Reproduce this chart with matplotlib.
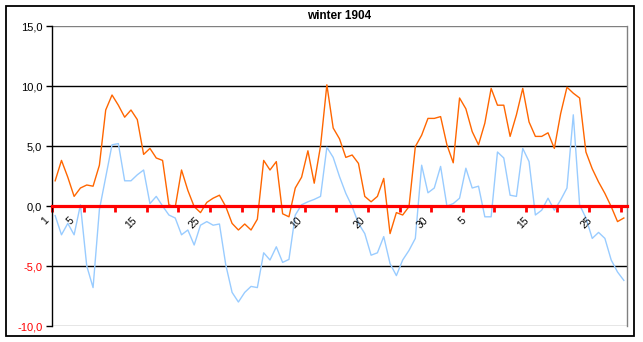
import matplotlib
matplotlib.use("Agg")
import matplotlib.pyplot as plt
import matplotlib.transforms as mtransforms
from matplotlib.patches import Rectangle
import numpy as np

plt.rcParams["font.family"] = ["Liberation Sans", "DejaVu Sans"]

title = "winter 1904"

# Daily values, 1 Dec 1903 .. 29 Feb 1904
orange_series = [
    2.1, 3.8, 2.4, 0.8, 1.5, 1.75, 1.65, 3.4, 8.0, 9.25,
    8.4, 7.4, 8.0, 7.2, 4.3, 4.8, 4.0, 3.8, 0.1, -0.1,
    3.0, 1.3, -0.05, -0.55, 0.3, 0.65, 0.9, -0.05, -1.45, -2.0,
    -1.5, -2.0, -1.1, 3.8, 3.0, 3.7, -0.65, -0.9, 1.5, 2.4,
    4.6, 1.9, 5.0, 10.1, 6.5, 5.6, 4.05, 4.25, 3.55, 0.8,
    0.35, 0.8, 2.3, -2.3, -0.55, -0.75, -0.05, 4.95, 5.9, 7.3,
    7.3, 7.45, 5.1, 3.6, 9.0, 8.1, 6.2, 5.1, 6.9, 9.8,
    8.4, 8.4, 5.8, 7.6, 9.8, 7.0, 5.8, 5.8, 6.1, 4.8,
    7.7, 9.9, 9.4, 9.0, 4.5, 3.1, 2.0, 1.05, -0.05, -1.3,
    -1.0,
]
blue_series = [
    -0.8, -2.4, -1.45, -2.4, 0.1, -5.0, -6.8, -0.3, 2.4, 5.1,
    5.2, 2.1, 2.1, 2.6, 3.0, 0.2, 0.8, 0.0, -0.75, -1.0,
    -2.4, -2.0, -3.25, -1.6, -1.3, -1.6, -1.5, -4.9, -7.2, -8.0,
    -7.2, -6.7, -6.8, -3.9, -4.5, -3.4, -4.7, -4.45, -0.75, 0.1,
    0.35, 0.55, 0.8, 4.9, 4.05, 2.45, 1.05, -0.05, -1.45, -2.3,
    -4.1, -3.9, -2.55, -4.8, -5.8, -4.5, -3.7, -2.7, 3.4, 1.1,
    1.5, 3.3, 0.0, 0.2, 0.65, 3.15, 1.5, 1.65, -0.9, -0.9,
    4.5, 4.0, 0.9, 0.8, 4.8, 3.7, -0.75, -0.35, 0.65, -0.35,
    0.5, 1.5, 7.6, 0.1, -1.0, -2.7, -2.2, -2.7, -4.5, -5.5,
    -6.2,
]

x_labels = ["1", "5", "15", "25", "10", "20", "30", "5", "15", "25"]
x_label_days = [0, 4, 14, 24, 40, 50, 60, 66, 76, 86]
y_ticks = [15, 10, 5, 0, -5, -10]
y_labels = ["15,0", "10,0", "5,0", "0,0", "-5,0", "-10,0"]
y_label_colors = ["black", "black", "black", "black", "red", "red"]

W, H = 643, 342
fig = plt.figure(figsize=(W / 100, H / 100), dpi=100)
fig.patch.set_facecolor("white")

# outer chart border
fig.add_artist(Rectangle((6 / W, 6 / H), (634 - 6) / W, (336 - 6) / H,
                         transform=fig.transFigure, fill=False,
                         edgecolor="black", linewidth=1.3))

left, right, top, bottom = 52, 627, 26, 326
ax = fig.add_axes([left / W, (H - bottom) / H, (right - left) / W, (bottom - top) / H])
ax.set_facecolor("white")

n = len(orange_series)
days = np.arange(n)
ax.set_xlim(-0.5, n - 0.5)
ax.set_ylim(-10, 15)

# horizontal gridlines
for yv in [10, 5, -5]:
    ax.axhline(yv, color="black", linewidth=1.0, zorder=1)
for yv in [15, -10]:
    ax.axhline(yv, color="#808080", linewidth=1.0, zorder=1)

ax.plot(days, blue_series, color="#99CCFF", linewidth=1.0, zorder=3)
ax.plot(days, orange_series, color="#FF6600", linewidth=1.0, zorder=4)

# spines
ax.spines["top"].set_visible(False)
ax.spines["right"].set_color("#808080")
ax.spines["right"].set_linewidth(1.0)
ax.spines["left"].set_color("black")
ax.spines["left"].set_linewidth(1.0)
ax.spines["bottom"].set_position(("data", 0))
ax.spines["bottom"].set_color("red")
ax.spines["bottom"].set_linewidth(2.3)
ax.spines["bottom"].set_zorder(5)

# y axis
ax.set_yticks(y_ticks)
ax.set_yticklabels(y_labels, fontsize=8)
for lbl, c in zip(ax.get_yticklabels(), y_label_colors):
    lbl.set_color(c)
ax.tick_params(axis="y", direction="out", length=4, width=1, color="black", pad=3)

# x axis: tick marks between categories every 5 days
ax.set_xticks(np.arange(-0.5, n - 0.5, 5))
ax.set_xticklabels([])
ax.tick_params(axis="x", direction="out", length=4.5, width=2, color="red")

# rotated day labels
offset = mtransforms.ScaledTranslation(-11.5 / 100, -9.5 / 100, fig.dpi_scale_trans)
for d, lab in zip(x_label_days, x_labels):
    ax.text(d, 0, lab, rotation=45, rotation_mode="anchor", ha="right", va="top",
            fontsize=7.5, color="black", transform=ax.transData + offset, zorder=6,
            clip_on=False)

fig.text((left + right) / 2 / W, 1 - 16 / H, title, ha="center", va="center",
         fontsize=8.5, fontweight="bold")

fig.savefig("out.png", dpi=100, facecolor="white")
